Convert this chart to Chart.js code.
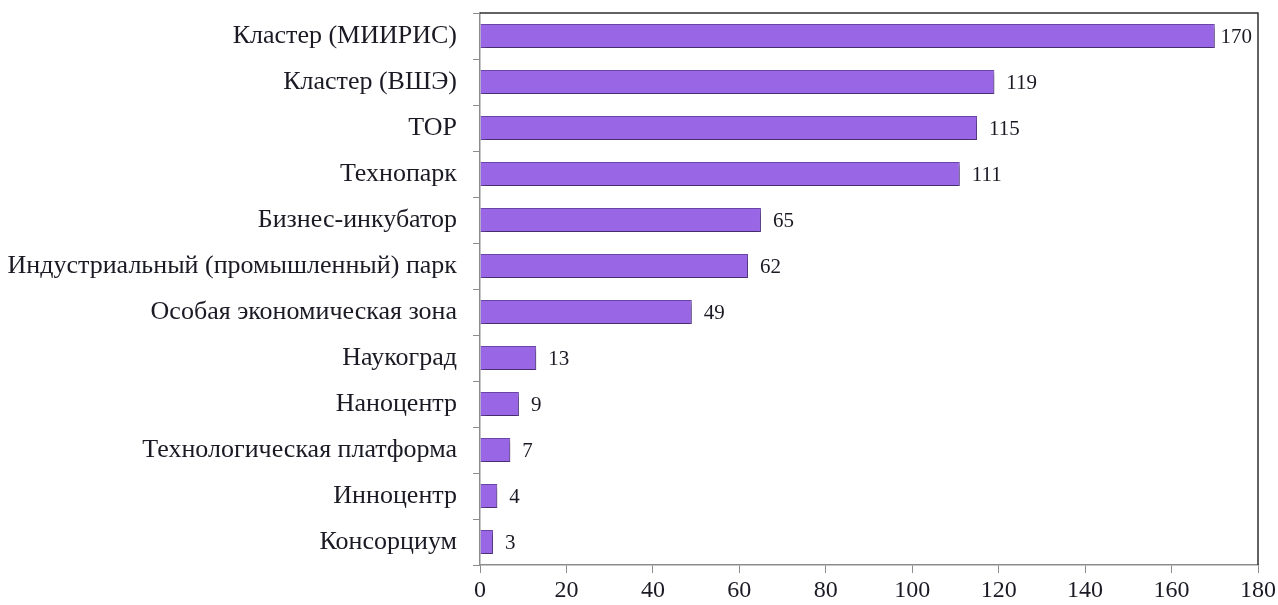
<!DOCTYPE html>
<html lang="ru">
<head>
<meta charset="utf-8">
<title>Формы инновационной инфраструктуры</title>
<script src="https://cdn.jsdelivr.net/npm/chart.js@4.4.1/dist/chart.umd.min.js"></script>
<style>
    html, body { margin: 0; padding: 0; background: #ffffff; }
    #wrap { width: 1278px; height: 605px; position: relative; }
</style>
</head>
<body>
<div id="wrap"><canvas id="chart"></canvas></div>
<script>
// ==================== ДАННЫЕ ====================
const categories = [
    'Кластер (МИИРИС)',
    'Кластер (ВШЭ)',
    'ТОР',
    'Технопарк',
    'Бизнес-инкубатор',
    'Индустриальный (промышленный) парк',
    'Особая экономическая зона',
    'Наукоград',
    'Наноцентр',
    'Технологическая платформа',
    'Инноцентр',
    'Консорциум'
];
const counts = [170, 119, 115, 111, 65, 62, 49, 13, 9, 7, 4, 3];
const axisMin = 0;
const axisMax = 180;
const axisStep = 20;

// ==================== СТИЛЬ ====================
const FONT = '"Liberation Serif", "Times New Roman", serif';
const TEXT_COLOR = '#1a1a24';
const AXIS_COLOR = '#8c8c8c';
const BAR_COLOR = '#9966e6';
const BAR_BORDER = '#6e48ad';

// тень под столбиками
const barShadow = {
    id: 'barShadow',
    beforeDatasetsDraw(chart) {
        const c = chart.ctx;
        c.save();
        c.shadowColor = 'rgba(0,0,0,0.45)';
        c.shadowBlur = 5;
        c.shadowOffsetX = 2;
        c.shadowOffsetY = 3;
    },
    afterDatasetsDraw(chart) {
        chart.ctx.restore();
    }
};

// рамка сверху и справа
const plotFrame = {
    id: 'plotFrame',
    afterDraw(chart) {
        const { ctx: c, chartArea: a } = chart;
        c.save();
        c.strokeStyle = '#303030';
        c.lineWidth = 1.5;
        c.beginPath();
        c.moveTo(a.left, a.top);
        c.lineTo(a.right, a.top);
        c.lineTo(a.right, a.bottom);
        c.stroke();
        c.restore();
    }
};

// подписи значений справа от столбиков
const valueLabels = {
    id: 'valueLabels',
    afterDatasetsDraw(chart) {
        const c = chart.ctx;
        const meta = chart.getDatasetMeta(0);
        const right = chart.chartArea.right;
        c.save();
        c.font = '21px ' + FONT;
        c.fillStyle = TEXT_COLOR;
        c.textAlign = 'left';
        c.textBaseline = 'middle';
        meta.data.forEach((bar, i) => {
            const txt = String(chart.data.datasets[0].data[i]);
            const w = c.measureText(txt).width;
            let x = bar.x + 12;
            if (x + w > right - 6) x = right - 6 - w;
            c.fillText(txt, x, bar.y + 1);
        });
        c.restore();
    }
};

// ==================== CHART ====================
const ctx = document.getElementById('chart').getContext('2d');

const chart = new Chart(ctx, {
    type: 'bar',
    data: {
        labels: categories,
        datasets: [{
            data: counts,
            backgroundColor: BAR_COLOR,
            borderColor: BAR_BORDER,
            borderWidth: 1,
            categoryPercentage: 1,
            barPercentage: 0.52
        }]
    },
    plugins: [barShadow, valueLabels, plotFrame],
    options: {
        indexAxis: 'y',
        animation: false,
        responsive: true,
        maintainAspectRatio: false,
        layout: {
            padding: { left: 0, top: 13, right: 20, bottom: 0 }
        },
        plugins: {
            legend: { display: false },
            tooltip: { enabled: false }
        },
        scales: {
            x: {
                min: axisMin,
                max: axisMax,
                afterFit: (scale) => {
                    scale.height = 40;
                    scale.paddingLeft = 0;
                    scale.paddingRight = 0;
                },
                border: { display: true, color: AXIS_COLOR, width: 1.5 },
                grid: {
                    drawOnChartArea: false,
                    drawTicks: true,
                    tickLength: 8,
                    color: AXIS_COLOR
                },
                ticks: {
                    stepSize: axisStep,
                    maxRotation: 0,
                    padding: 3,
                    color: TEXT_COLOR,
                    font: { family: FONT, size: 24 }
                }
            },
            y: {
                afterFit: (scale) => {
                    scale.width = 480;
                    scale.paddingTop = 0;
                    scale.paddingBottom = 0;
                },
                border: { display: true, color: AXIS_COLOR, width: 1.5 },
                grid: {
                    drawOnChartArea: false,
                    drawTicks: true,
                    tickLength: 7,
                    offset: true,
                    color: AXIS_COLOR
                },
                ticks: {
                    padding: 16,
                    color: TEXT_COLOR,
                    font: { family: FONT, size: 26 }
                }
            }
        }
    }
});
</script>
</body>
</html>
